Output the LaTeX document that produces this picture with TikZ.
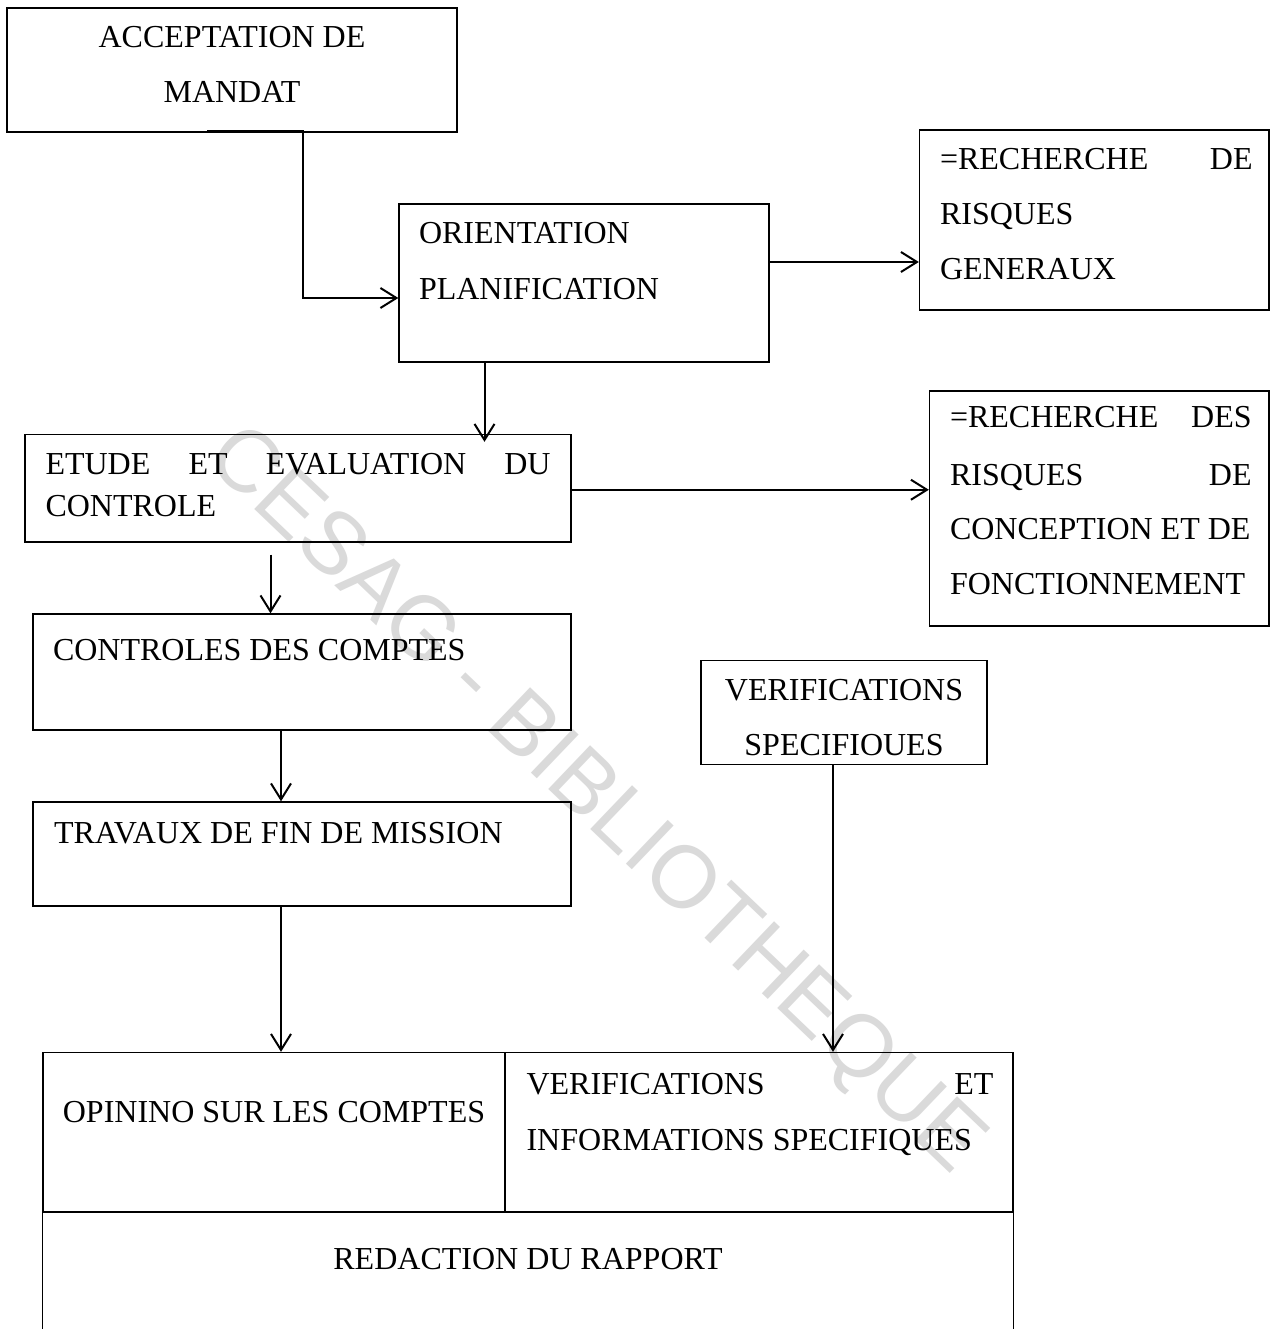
\documentclass[tikz,border=0pt]{standalone}
\usepackage{fontspec}
\setmainfont{Liberation Serif}
\newfontfamily\markfont{Liberation Sans}
\usetikzlibrary{arrows.meta,calc,fit}

\definecolor{markgray}{HTML}{DADADA}

\tikzset{
  box/.style={draw=black, line width=0.5pt, inner sep=0pt},
  cell/.style={inner sep=0pt},
  lbl/.style={inner sep=0pt, font=\fontsize{12}{14}\selectfont},
  conn/.style={draw=black, line width=0.75pt,
    -{Straight Barb[length=6pt,width=7.5pt,line width=0.75pt]}},
  frameline/.style={draw=black, line width=0.5pt},
}

\begin{document}
\begin{tikzpicture}[x=0.375pt, y=-0.375pt]
\clip (0,0) rectangle (1273,1329);
\fill[white] (0,0) rectangle (1273,1329);

% library stamp across the page
\node[text=markgray, font=\markfont\fontsize{33}{33}\selectfont, rotate=-43.7, inner sep=0pt]
  (stamp) at (594,802) {CESAG - BIBLIOTHEQUE};

% boxes
\node[box, fit={(7,8) (457,132)}] (accept) {};
\node[box, fit={(399,204) (769,362)}] (orient) {};
\node[box, fit={(919.5,130) (1269,310)}] (rg) {};
\node[box, fit={(929.5,391) (1269,626)}] (rd) {};
\node[box, fit={(25,434.5) (571,542)}] (etude) {};
\node[box, fit={(33,614) (571,730)}] (controles) {};
\node[box, fit={(33,802) (571,906)}] (travaux) {};
\node[box, fit={(701,660.5) (987,764.5)}] (verif) {};

% final table: two cells above, one open cell below
\node[box, fit={(43,1052.5) (505,1212.5)}] (opinion) {};
\node[box, fit={(505,1052.5) (1013,1212.5)}] (verifinfo) {};
\node[cell, fit={(43,1212.5) (1013,1345)}] (redac) {};
\draw[frameline] (redac.south west) -- (redac.north west) -- (redac.north east) -- (redac.south east);

% texts
\node[lbl, anchor=base] (t1a) at (232,48) {ACCEPTATION DE};
\node[lbl, anchor=base] (t1b) at (232,103) {MANDAT};

\node[lbl, anchor=base west] (t2a) at (418.5,244) {ORIENTATION};
\node[lbl, anchor=base west] (t2b) at (418.5,300) {PLANIFICATION};

\node[lbl, anchor=base west] (t3a) at (939.5,170) {\hbox to 117.2pt{=RECHERCHE\hfill DE}};
\node[lbl, anchor=base west] (t3b) at (939.5,225) {RISQUES};
\node[lbl, anchor=base west] (t3c) at (939.5,280) {GENERAUX};

\node[lbl, anchor=base west] (t4a) at (949.5,428) {\hbox to 113.1pt{=RECHERCHE\hfill DES}};
\node[lbl, anchor=base west] (t4b) at (949.5,485) {\hbox to 113.1pt{RISQUES\hfill DE}};
\node[lbl, anchor=base west] (t4c) at (949.5,539) {CONCEPTION ET DE};
\node[lbl, anchor=base west] (t4d) at (949.5,594) {FONCTIONNEMENT};

\node[lbl, anchor=base west] (t5a) at (45,474) {\hbox to 189.4pt{ETUDE\hfill ET\hfill EVALUATION\hfill DU}};
\node[lbl, anchor=base west] (t5b) at (45,516) {CONTROLE};

\node[lbl, anchor=base west] (t6) at (52.5,660) {CONTROLES DES COMPTES};
\node[lbl, anchor=base west] (t7) at (53.5,843) {TRAVAUX DE FIN DE MISSION};

\node[lbl, anchor=base] (t8a) at (844,700) {VERIFICATIONS};
\node[lbl, anchor=base] (t8b) at (844,755) {SPECIFIOUES};

\node[lbl, anchor=base] (t9) at (274,1122) {OPININO SUR LES COMPTES};
\node[lbl, anchor=base west] (t10a) at (526,1094) {\hbox to 175.1pt{VERIFICATIONS\hfill ET}};
\node[lbl, anchor=base west] (t10b) at (526,1150) {INFORMATIONS SPECIFIQUES};
\node[lbl, anchor=base] (t11) at (528,1269) {REDACTION DU RAPPORT};

% connectors
\coordinate (a1) at ($(accept.south)+(-25,-1.5)$);
\draw[line width=1.1pt] (a1) -- ++(95.5,0);
\draw[conn] (a1) -- ++(95.5,0) |- ($(orient.west)+(0,15)$);

\coordinate (o1) at ($(orient.east)+(0,-21)$);
\draw[conn] (o1) -- (o1 -| rg.west);

\coordinate (o2) at ($(orient.south)+(-99.5,0)$);
\draw[conn] (o2) -- ($(o2 |- etude.north)+(0,8)$);

\coordinate (e1) at ($(etude.east)+(0,1.5)$);
\draw[conn] (e1) -- (e1 -| rd.west);

\coordinate (e2) at ($(etude.south)+(-27.5,12)$);
\draw[conn] (e2) -- (e2 |- controles.north);

\coordinate (c1) at ($(controles.south)+(-21,0)$);
\draw[conn] (c1) -- (c1 |- travaux.north);

\coordinate (w1) at ($(travaux.south)+(-21,0)$);
\draw[conn] (w1) -- (w1 |- opinion.north);

\coordinate (v1) at ($(verif.south)+(-11,0)$);
\draw[conn] (v1) -- (v1 |- verifinfo.north);
\end{tikzpicture}
\end{document}
